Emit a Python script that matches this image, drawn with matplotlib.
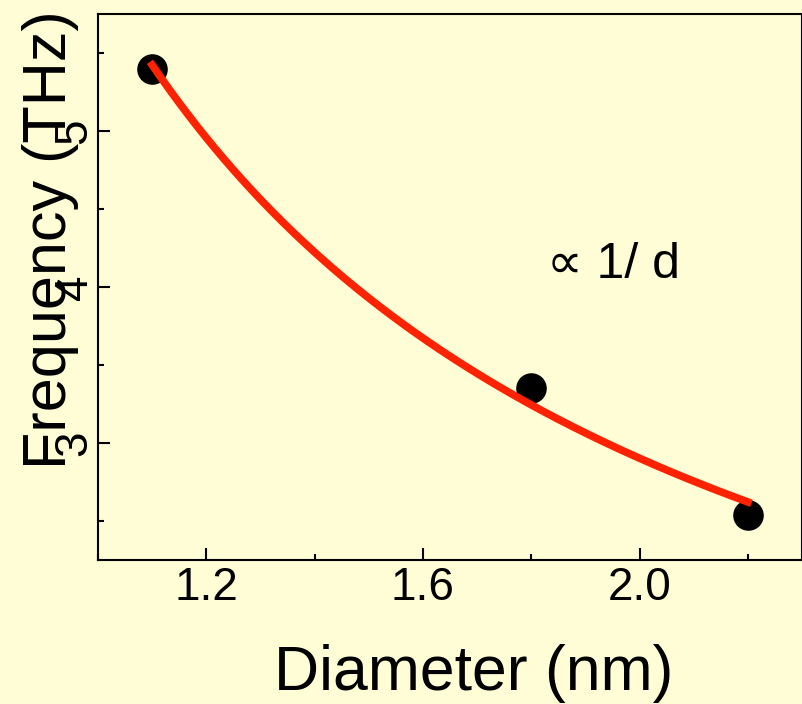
import numpy as np
import matplotlib
matplotlib.use("Agg")
import matplotlib.pyplot as plt
from matplotlib.ticker import MultipleLocator

plt.rcParams['font.family'] = ['Liberation Sans', 'DejaVu Sans']

# data
diameter = [1.1, 1.8, 2.2]          # nm
frequency = [5.40, 3.35, 2.54]      # THz

# fit f = A/d + B (the red curve)
A, B = np.polyfit(1.0 / np.array(diameter), frequency, 1)
d_fit = np.linspace(min(diameter), max(diameter), 200)
f_fit = A / d_fit + B

bg = '#FFFDD6'
fig = plt.figure(figsize=(8.03, 7.04), dpi=100, facecolor=bg)
ax = fig.add_axes([98 / 803, 144 / 704, 704 / 803, 546 / 704])
ax.set_facecolor(bg)

ax.plot(diameter, frequency, 'o', color='black', markersize=21, zorder=2)
ax.plot(d_fit, f_fit, '-', color='#FF2200', linewidth=5.5, zorder=3)

ax.set_xlim(1.0, 2.3)
ax.set_ylim(2.25, 5.75)
ax.xaxis.set_minor_locator(MultipleLocator(0.2))
ax.set_xticks([1.2, 1.6, 2.0])
ax.set_xticklabels(['1.2', '1.6', '2.0'])
ax.set_yticks([3, 4, 5])
ax.yaxis.set_minor_locator(MultipleLocator(0.5))

ax.tick_params(which='both', direction='in', top=False, right=False, width=1.5)
ax.tick_params(which='major', length=8.5)
ax.tick_params(which='minor', length=4.3)
ax.tick_params(axis='x', labelsize=33, pad=4)
ax.tick_params(axis='y', labelsize=33, pad=1)
for lab in ax.get_yticklabels():
    lab.set_rotation(90)
    lab.set_va('center')
for s in ax.spines.values():
    s.set_linewidth(1.5)

ax.set_xlabel('Diameter (nm)', fontsize=45, va='baseline')
ax.xaxis.set_label_coords(0.533, -0.238)
ax.set_ylabel('Frequency (THz)', fontsize=44, va='center')
ax.yaxis.set_label_coords(-0.067, 0.586)

ax.text(1.83, 4.14, '\u221d 1/ d', fontsize=36, va='center', ha='left')

fig.savefig('out.png', dpi=100, facecolor=bg)
